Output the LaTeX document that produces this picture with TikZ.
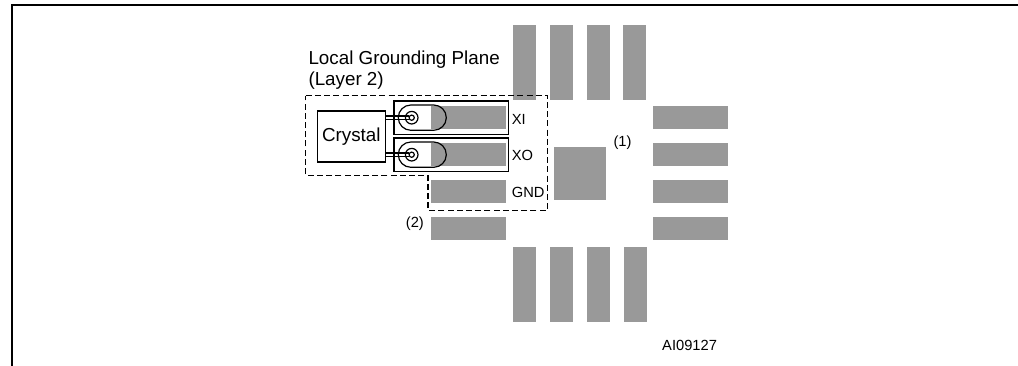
\documentclass[tikz,border=0pt]{standalone}
\usepackage{fontspec}
\setmainfont{Liberation Sans}
\definecolor{padgray}{HTML}{999999}
\tikzset{
	pad/.style={fill=padgray},
	bigtext/.style={inner sep=0pt, font=\fontsize{18.8}{23}\selectfont},
	smalltext/.style={inner sep=0pt, font=\fontsize{14.7}{17}\selectfont},
	groundline/.style={line width=1.2pt, dash pattern=on 6pt off 3.2pt},
	thinline/.style={line width=1.2pt}
}
\begin{document}
\begin{tikzpicture}[x=1pt,y=-1pt]

\useasboundingbox (0,0) rectangle (1018,366);

%Rahmen
\draw[line width=2.4pt] (12,366) -- (12,5) -- (1018,5);

%Pads oben
\fill[pad] (513,25) rectangle (536,100);
\fill[pad] (550,25) rectangle (573,100);
\fill[pad] (587,25) rectangle (610,100);
\fill[pad] (623,25) rectangle (646,100);

%Pads unten
\fill[pad] (513,247) rectangle (536,322);
\fill[pad] (550,247) rectangle (573,322);
\fill[pad] (587,247) rectangle (610,322);
\fill[pad] (624,247) rectangle (647,322);

%Pads rechts
\fill[pad] (653,106) rectangle (728,129);
\fill[pad] (653,143) rectangle (728,166);
\fill[pad] (653,180) rectangle (728,203);
\fill[pad] (653,217) rectangle (728,240);

%Pads links
\fill[pad] (431,106) rectangle (506,129);
\fill[pad] (431,143) rectangle (506,166);
\fill[pad] (431,180) rectangle (506,203);
\fill[pad] (431,217) rectangle (506,240);

%Mitte
\fill[pad] (554,147) rectangle (606,200);

%Masseflaeche
\draw[groundline] (305.7,95.7) -- (547.7,95.7) -- (547.7,210.3) -- (428,210.3) -- (428,175.3) -- (305.7,175.3) -- cycle;

%Rahmen XI und XO
\draw[thinline] (394,101) rectangle (508.3,134.3);
\draw[thinline] (394,138) rectangle (508.3,171.3);

%Kapseln
\draw[thinline, rounded corners=12.6pt] (398.3,105) rectangle (446.3,130.3);
\draw[thinline, rounded corners=12.6pt] (398.3,142) rectangle (446.3,167.3);

%Crystal
\node[draw, thinline, bigtext, minimum width=68pt, minimum height=51pt] (crystal) at (351.3,136.5) {Crystal};

%Anschluesse
\coordinate (xiup) at (409,116);
\coordinate (xidown) at (409,119.4);
\coordinate (xoup) at (409,153);
\coordinate (xodown) at (409,156.4);
\draw[thinline] (crystal.east |- xiup) -- (xiup);
\draw[thinline] (crystal.east |- xidown) -- (xidown);
\draw[thinline] (crystal.east |- xoup) -- (xoup);
\draw[thinline] (crystal.east |- xodown) -- (xodown);

%Kreise
\draw[thinline] (411.7,117.7) circle (6.3);
\draw[thinline, fill=white] (411.7,117.7) circle (2.6);
\draw[thinline] (411.7,154.7) circle (6.3);
\draw[thinline, fill=white] (411.7,154.7) circle (2.6);

%Beschriftung
\node[bigtext, anchor=west] (plane) at (308.3,60) {Local Grounding Plane};
\node[bigtext, anchor=west] (layer) at (308.3,81) {(Layer 2)};
\node[smalltext, anchor=west] (xi) at (511.7,119.7) {XI};
\node[smalltext, anchor=west] (xo) at (511.7,155.7) {XO};
\node[smalltext, anchor=west] (gnd) at (511.7,192.7) {GND};
\node[smalltext, anchor=west] (one) at (613.3,142.7) {(1)};
\node[smalltext, anchor=west] (two) at (405.7,223.7) {(2)};
\node[smalltext, anchor=west] (code) at (662,345) {AI09127};

\end{tikzpicture}
\end{document}
